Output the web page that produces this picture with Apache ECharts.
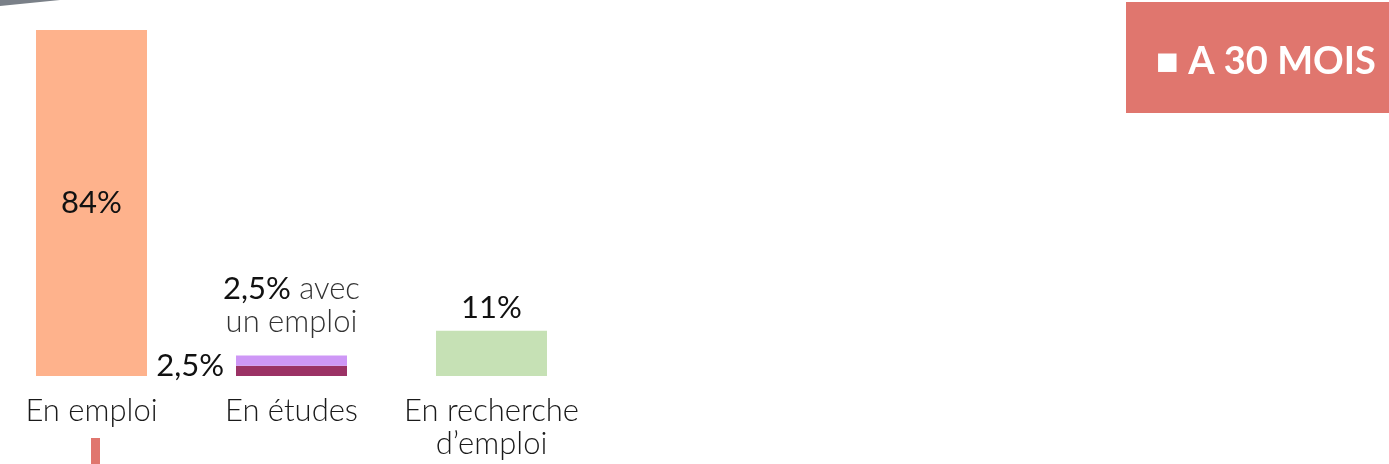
<!DOCTYPE html>
<html><head><meta charset="utf-8">
<script src="https://cdn.jsdelivr.net/npm/echarts@6/dist/echarts.min.js"></script>
<style>html,body{margin:0;padding:0;background:#fff}#c{width:1389px;height:464px}</style>
</head><body><div id="c"></div>
<script>
const categories = ['En emploi', 'En études', 'En recherche\nd\u2019emploi'];
const mainValues = [84, 2.5, 11];
const mainLabels = ['84%', '2,5%', '11%'];
const withJobValues = ['-', 2.5, '-'];
const mainColors = ['#FEB28C', '#9B3265', '#C6E1B5'];
const legendText = '\u25A0 A 30 MOIS';

const FONT = 'Lato';
const labelPos = ['inside', 'left', 'top'];

const chart = echarts.init(document.getElementById('c'));
chart.setOption({
  animation: false,
  grid: { left: 91.5, width: 400, top: 30, bottom: 88 },
  xAxis: {
    type: 'category', data: categories, boundaryGap: false,
    axisLine: { show: false }, axisTick: { show: false },
    axisLabel: { margin: 18, fontFamily: FONT, fontWeight: 300, fontSize: 31, color: '#1a1a1a', lineHeight: 33, interval: 0 }
  },
  yAxis: { type: 'value', min: 0, max: 84, show: false, splitLine: { show: false } },
  series: [
    {
      type: 'bar', stack: 's', barWidth: 111, clip: false,
      data: mainValues.map((v, i) => ({
        value: v,
        itemStyle: { color: mainColors[i] },
        label: { show: true, position: labelPos[i], formatter: mainLabels[i],
          distance: i === 1 ? 12 : 7, offset: i === 1 ? [0, -5] : [0, 0] }
      })),
      label: { fontFamily: FONT, fontWeight: 400, fontSize: 31, color: '#111' }
    },
    {
      type: 'bar', stack: 's', barWidth: 111, clip: false,
      itemStyle: { color: '#CE97F6' },
      data: withJobValues,
      label: {
        show: true, position: 'top', distance: 17,
        formatter: p => '{b|' + mainLabels[p.dataIndex] + '}{g| avec}\n{g|un emploi}',
        rich: {
          b: { fontFamily: FONT, fontWeight: 400, fontSize: 31, color: '#111', lineHeight: 33 },
          g: { fontFamily: FONT, fontWeight: 300, fontSize: 31, color: '#333', lineHeight: 33 }
        },
        align: 'center'
      }
    }
  ],
  graphic: [
    { type: 'rect', shape: { x: 1126, y: 2, width: 270, height: 111 }, style: { fill: '#E0766E' } },
    { type: 'text', left: 1156, top: 43, style: { text: legendText, fill: '#fff', font: 'bold 38px ' + FONT } },
    { type: 'rect', shape: { x: 91, y: 438, width: 9, height: 30 }, style: { fill: '#E0766E' } },
    { type: 'polygon', shape: { points: [[0, 0], [60, 0], [0, 6]] }, style: { fill: '#7A8088' } }
  ]
});
</script></body></html>
